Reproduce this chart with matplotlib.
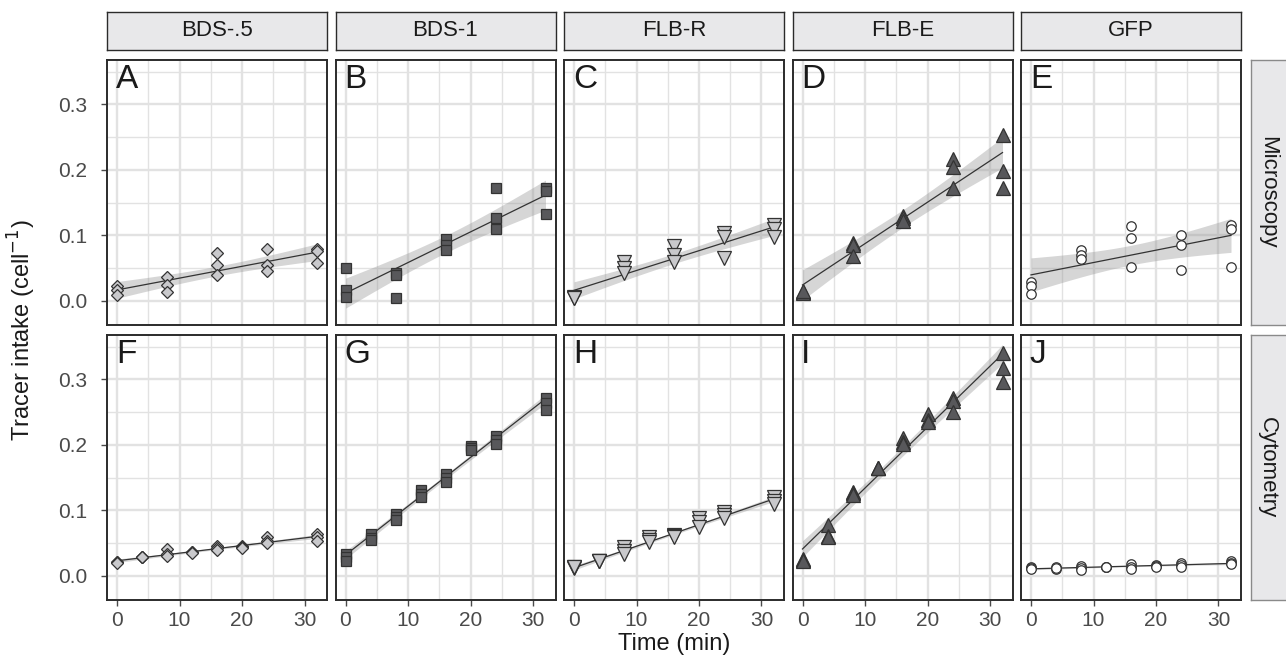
import numpy as np
import matplotlib.pyplot as plt

plt.rcParams['font.family'] = ['Liberation Sans', 'DejaVu Sans']

# --- data -----------------------------------------------------------------
tracers = ["BDS-.5", "BDS-1", "FLB-R", "FLB-E", "GFP"]
methods = ["Microscopy", "Cytometry"]
letters = ["A", "B", "C", "D", "E", "F", "G", "H", "I", "J"]

time_micro = [0, 0, 0, 8, 8, 8, 16, 16, 16, 24, 24, 24, 32, 32, 32]
time_cyto = [0, 0, 0, 4, 4, 4, 8, 8, 8, 12, 12, 12,
             16, 16, 16, 20, 20, 20, 24, 24, 24, 32, 32, 32]

bds05_micro = [0.023, 0.016, 0.009, 0.037, 0.024, 0.014, 0.073, 0.055, 0.039,
               0.079, 0.055, 0.046, 0.079, 0.076, 0.057]
bds1_micro = [0.050, 0.016, 0.006, 0.042, 0.040, 0.005, 0.094, 0.086, 0.077,
              0.173, 0.127, 0.109, 0.172, 0.168, 0.133]
flbr_micro = [0.005, 0.006, 0.004, 0.060, 0.050, 0.042, 0.083, 0.070, 0.060,
              0.103, 0.097, 0.065, 0.116, 0.109, 0.097]
flbe_micro = [0.014, 0.012, 0.015, 0.088, 0.086, 0.069, 0.130, 0.126, 0.122,
              0.216, 0.205, 0.172, 0.253, 0.199, 0.173]
gfp_micro = [0.029, 0.022, 0.011, 0.078, 0.070, 0.064, 0.114, 0.096, 0.052,
             0.101, 0.085, 0.047, 0.116, 0.110, 0.052]

bds05_cyto = [0.021, 0.021, 0.020, 0.028, 0.028, 0.029, 0.041, 0.033, 0.031,
              0.036, 0.036, 0.035, 0.046, 0.042, 0.039, 0.046, 0.044, 0.042,
              0.059, 0.053, 0.050, 0.064, 0.059, 0.053]
bds1_cyto = [0.034, 0.028, 0.023, 0.064, 0.058, 0.055, 0.095, 0.090, 0.086,
             0.131, 0.125, 0.120, 0.156, 0.150, 0.143, 0.199, 0.196, 0.192,
             0.213, 0.208, 0.202, 0.272, 0.264, 0.254]
flbr_cyto = [0.013, 0.012, 0.013, 0.023, 0.022, 0.023, 0.044, 0.038, 0.034,
             0.059, 0.055, 0.051, 0.063, 0.061, 0.059, 0.089, 0.082, 0.074,
             0.097, 0.093, 0.089, 0.121, 0.115, 0.109]
flbe_cyto = [0.026, 0.024, 0.022, 0.077, 0.061, 0.059, 0.128, 0.126, 0.124,
             0.165, 0.165, 0.164, 0.211, 0.205, 0.202, 0.248, 0.238, 0.235,
             0.271, 0.267, 0.251, 0.341, 0.318, 0.296]
gfp_cyto = [0.013, 0.012, 0.010, 0.011, 0.013, 0.012, 0.015, 0.012, 0.009,
            0.013, 0.014, 0.013, 0.018, 0.014, 0.011, 0.016, 0.015, 0.014,
            0.019, 0.017, 0.014, 0.023, 0.019, 0.018]

micro_series = [bds05_micro, bds1_micro, flbr_micro, flbe_micro, gfp_micro]
cyto_series = [bds05_cyto, bds1_cyto, flbr_cyto, flbe_cyto, gfp_cyto]

# --- styles ---------------------------------------------------------------
light = "#c9c9cc"
dark = "#58585b"
marker_style = [("D", light, 6.5), ("s", dark, 6.8), ("v", light, 10.0),
                ("^", dark, 10.0), ("o", "white", 6.8)]


def t975(df):
    # Cornish-Fisher style approximation of the 97.5% t quantile
    z = 1.959964
    return (z + (z**3 + z) / (4 * df)
            + (5 * z**5 + 16 * z**3 + 3 * z) / (96 * df**2))


def lm_band(x, y, xs):
    x = np.asarray(x, float)
    y = np.asarray(y, float)
    n = len(x)
    b, a = np.polyfit(x, y, 1)
    res = y - (a + b * x)
    s = np.sqrt(np.sum(res**2) / (n - 2))
    sxx = np.sum((x - x.mean())**2)
    fit = a + b * xs
    se = s * np.sqrt(1.0 / n + (xs - x.mean())**2 / sxx)
    t = t975(n - 2)
    return fit, fit - t * se, fit + t * se


W, H = 1286, 661
fig = plt.figure(figsize=(W / 100, H / 100), dpi=100)


def px(x0, y0, w, h):
    return [x0 / W, 1 - (y0 + h) / H, w / W, h / H]


col_left = [107, 335.5, 564, 792.5, 1021]
pw = 220
row_top = [60, 335]
ph = 265
grid_c = "#e2e2e2"
border_c = "#2b2b2b"
tick_c = "#4a4a4a"

for r in range(2):
    times = time_micro if r == 0 else time_cyto
    series = micro_series if r == 0 else cyto_series
    for c in range(5):
        ax = fig.add_axes(px(col_left[c], row_top[r], pw, ph))
        ax.set_xlim(-1.6, 33.6)
        ax.set_ylim(-0.037, 0.368)
        ax.set_xticks([0, 10, 20, 30])
        ax.set_xticks([5, 15, 25], minor=True)
        ax.set_yticks([0.0, 0.1, 0.2, 0.3])
        ax.set_yticks([0.05, 0.15, 0.25, 0.35], minor=True)
        ax.grid(True, which="major", color=grid_c, lw=1.7)
        ax.grid(True, which="minor", color=grid_c, lw=1.0)
        ax.set_axisbelow(True)
        for sp in ax.spines.values():
            sp.set_color(border_c)
            sp.set_linewidth(1.4)
        ax.tick_params(which="minor", length=0)
        ax.tick_params(which="major", length=4, width=1, color=tick_c,
                       labelcolor=tick_c, labelsize=15)
        ax.tick_params(axis="y", pad=10)
        ax.tick_params(axis="x", pad=4)
        if c == 0:
            ax.set_yticklabels(["0.0", "0.1", "0.2", "0.3"])
        else:
            ax.tick_params(axis="y", length=0, labelleft=False)
        if r == 1:
            ax.set_xticklabels(["0", "10", "20", "30"])
        else:
            ax.tick_params(axis="x", length=0, labelbottom=False)

        xs = np.linspace(0, 32, 100)
        fit, lo, hi = lm_band(times, series[c], xs)
        ax.fill_between(xs, lo, hi, color="#999999", alpha=0.4, lw=0, zorder=2)
        ax.plot(xs, fit, color="#333333", lw=0.9, zorder=3)
        mk, fc, ms = marker_style[c]
        ax.plot(times, series[c], ls="none", marker=mk, ms=ms, mfc=fc,
                mec="#333333", mew=0.9, zorder=4)
        ax.text(0.04, 0.985, letters[r * 5 + c], transform=ax.transAxes,
                ha="left", va="top", fontsize=24, color="#1a1a1a")

# strips on top
for c in range(5):
    sax = fig.add_axes(px(col_left[c], 12, pw, 38))
    sax.set_facecolor("#e8e8ea")
    sax.set_xticks([])
    sax.set_yticks([])
    for sp in sax.spines.values():
        sp.set_color(border_c)
        sp.set_linewidth(1.0)
    sax.text(0.5, 0.5, tracers[c], ha="center", va="center", fontsize=16,
             color="#1a1a1a", transform=sax.transAxes)

# strips on the right
for r in range(2):
    sax = fig.add_axes(px(1251, row_top[r], 36, ph))
    sax.set_facecolor("#e8e8ea")
    sax.set_xticks([])
    sax.set_yticks([])
    for sp in sax.spines.values():
        sp.set_color("#8a8a8a")
        sp.set_linewidth(1.0)
    sax.text(0.45, 0.5, methods[r], ha="center", va="center", fontsize=16,
             rotation=-90, color="#1a1a1a", transform=sax.transAxes)

fig.text((col_left[0] + col_left[4] + pw) / 2 / W, 1 - 644 / H, "Time (min)",
         ha="center", va="center", fontsize=17, color="#1a1a1a")
fig.text(22 / W, 1 - 330 / H, "Tracer intake (cell$^{-1}$)", ha="center",
         va="center", rotation=90, fontsize=17, color="#1a1a1a")

fig.savefig("out.png", dpi=100, facecolor="white")
